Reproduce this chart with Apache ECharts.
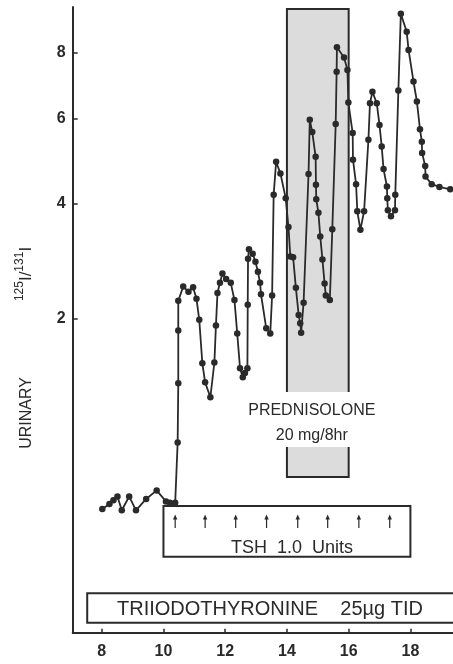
<!DOCTYPE html>
<html><head><meta charset="utf-8">
<script src="https://cdn.jsdelivr.net/npm/echarts@6/dist/echarts.min.js"></script>
<style>html,body{margin:0;padding:0;background:#fff}#c{width:453px;height:664px}</style>
</head><body><div id="c"></div>
<script>
// ---- data ----
const days = [8.02, 8.25, 8.38, 8.51, 8.65, 8.89, 9.11, 9.44, 9.78, 10.08, 10.21, 10.38,
  10.46, 10.48, 10.48, 10.48, 10.64, 10.81, 10.96, 11.07, 11.16, 11.26, 11.35, 11.52, 11.65, 11.70,
  11.75, 11.83, 11.91, 12.03, 12.18, 12.30, 12.39, 12.48, 12.57, 12.64, 12.72, 12.73, 12.74, 12.77,
  12.89, 12.98, 13.06, 13.13, 13.16, 13.33, 13.46, 13.52, 13.57, 13.65, 13.79, 13.96, 14.05, 14.11,
  14.20, 14.29, 14.38, 14.43, 14.46, 14.54, 14.70, 14.74, 14.82, 14.93, 14.94, 14.95, 15.02, 15.08,
  15.15, 15.22, 15.26, 15.39, 15.47, 15.58, 15.61, 15.62, 15.85, 15.96, 15.99, 16.13, 16.14, 16.24,
  16.28, 16.38, 16.50, 16.64, 16.69, 16.77, 16.91, 17.00, 17.07, 17.13, 17.24, 17.25, 17.27, 17.37,
  17.50, 17.51, 17.61, 17.69, 17.88, 17.94, 18.10, 18.21, 18.31, 18.37, 18.38, 18.48, 18.49, 18.69,
  18.94, 19.29];
const ratio = [-0.04, 0.00, 0.03, 0.06, -0.05, 0.06, -0.05, 0.04, 0.11, 0.02, 0.01, 0.01,
  0.54, 1.17, 1.84, 2.27, 2.49, 2.41, 2.48, 2.30, 1.99, 1.41, 1.18, 1.01, 1.42, 1.91,
  2.39, 2.55, 2.70, 2.61, 2.55, 2.28, 1.80, 1.35, 1.24, 1.29, 1.35, 2.21, 2.95, 3.12,
  3.04, 2.90, 2.73, 2.55, 2.37, 1.87, 1.80, 2.35, 4.18, 4.92, 4.65, 4.11, 3.53, 2.99,
  2.98, 2.47, 2.06, 1.94, 1.81, 2.24, 4.64, 5.98, 5.66, 5.04, 4.40, 4.09, 3.81, 3.35,
  2.94, 2.54, 2.35, 2.28, 3.49, 5.87, 7.38, 8.18, 7.84, 7.44, 6.46, 5.63, 4.97, 4.41,
  3.84, 3.48, 3.84, 5.46, 6.44, 6.77, 6.44, 5.84, 5.29, 4.75, 4.36, 4.11, 3.86, 3.74,
  3.86, 4.18, 6.81, 9.38, 8.72, 8.09, 7.08, 6.49, 5.73, 5.41, 5.13, 4.82, 4.58, 4.41,
  4.35, 4.30];
const xTicks = [8, 10, 12, 14, 16, 18];
const yTicks = [2, 4, 6, 8];
const xRange = [7.06, 19.38];
const yRange = [-0.84, 9.64];
const prednisoloneDays = [14, 16];
const tshDays = [10, 18];
const tshDoseDays = [10.38, 11.35, 12.34, 13.34, 14.35, 15.32, 16.33, 17.33];
const t3Days = [7.53, 19.8];
const predLabel = ['PREDNISOLONE', '20 mg/8hr'];
const tshLabel = 'TSH  1.0  Units';
const t3Label = 'TRIIODOTHYRONINE    25\u00b5g TID';

// axis scale of the figure (compressive, log-like)
const OFFSET = 2.5;
const toAxis = v => Math.log10(v + OFFSET);
const fromAxis = t => Math.pow(10, t) - OFFSET;

const INK = '#2a2a2a';
const FONT = '"Liberation Sans", Arial, sans-serif';

const chart = echarts.init(document.getElementById('c'));
chart.setOption({
  animation: false,
  backgroundColor: '#fff',
  grid: { left: 72.7, right: 0, top: 7, bottom: 31.3, containLabel: false },
  xAxis: {
    type: 'value', min: xRange[0], max: xRange[1],
    axisLine: { lineStyle: { color: INK, width: 2 } },
    axisTick: { inside: true, length: 4, lineStyle: { color: INK, width: 1.5 }, customValues: xTicks },
    axisLabel: { customValues: xTicks, margin: 11, color: INK, fontSize: 16, fontWeight: 'bold', fontFamily: FONT },
    splitLine: { show: false }
  },
  yAxis: {
    type: 'value', min: toAxis(yRange[0]), max: toAxis(yRange[1]),
    axisLine: { show: true, lineStyle: { color: INK, width: 2 } },
    axisTick: { show: true, inside: true, length: 5, lineStyle: { color: INK, width: 1.5 }, customValues: yTicks.map(toAxis) },
    axisLabel: { customValues: yTicks.map(toAxis), margin: 7, color: INK, fontSize: 16, fontWeight: 'bold', fontFamily: FONT,
      formatter: v => String(Math.round(fromAxis(v))) },
    splitLine: { show: false },
    name: '{u|URINARY}{s|125}{b|I/}{s|131}{b|I}',
    nameLocation: 'middle', nameRotate: 90, nameGap: 38,
    nameTextStyle: {
      padding: [0, 56, 0, 0],
      rich: {
        u: { fontSize: 16, fontFamily: FONT, color: INK, lineHeight: 21, verticalAlign: 'bottom', padding: [0, 76, 0, 0] },
        s: { fontSize: 12, fontFamily: FONT, color: INK, lineHeight: 12, verticalAlign: 'top' },
        b: { fontSize: 17, fontFamily: FONT, color: INK, lineHeight: 21, verticalAlign: 'bottom' }
      }
    }
  },
  series: [{
    type: 'line',
    data: days.map((d, i) => [d, toAxis(ratio[i])]),
    symbol: 'circle', symbolSize: 6.5,
    lineStyle: { color: INK, width: 1.8 },
    itemStyle: { color: INK },
    z: 3
  }]
});

const px = d => chart.convertToPixel({ xAxisIndex: 0 }, d);
const g = [];
// prednisolone box
const p0 = px(prednisoloneDays[0]), p1 = px(prednisoloneDays[1]);
g.push({ type: 'rect', z: 1, shape: { x: p0, y: 9, width: p1 - p0, height: 468 },
  style: { fill: '#dcdcdc', stroke: INK, lineWidth: 2 } });
g.push({ type: 'rect', z: 4, shape: { x: p0 - 3, y: 392, width: p1 - p0 + 6, height: 55 },
  style: { fill: '#fff', stroke: null } });
g.push({ type: 'text', z: 5, style: { text: predLabel[0], x: (p0 + p1) / 2 - 6, y: 410.5,
  align: 'center', verticalAlign: 'middle', font: '16px ' + FONT, fill: INK } });
g.push({ type: 'text', z: 5, style: { text: predLabel[1], x: (p0 + p1) / 2 - 6, y: 435.5,
  align: 'center', verticalAlign: 'middle', font: '16px ' + FONT, fill: INK } });
// TSH box
const t0 = px(tshDays[0]), t1 = px(tshDays[1]);
g.push({ type: 'rect', z: 1, shape: { x: t0, y: 506, width: t1 - t0, height: 50.7 },
  style: { fill: 'none', stroke: INK, lineWidth: 2 } });
tshDoseDays.forEach(d => {
  const x = px(d);
  g.push({ type: 'line', z: 5, shape: { x1: x, y1: 528, x2: x, y2: 517 }, style: { stroke: INK, lineWidth: 1.2 } });
  g.push({ type: 'polygon', z: 5, shape: { points: [[x, 514.5], [x - 2.2, 519.5], [x + 2.2, 519.5]] }, style: { fill: INK } });
});
g.push({ type: 'text', z: 5, style: { text: tshLabel, x: (t0 + t1) / 2 + 5, y: 548,
  align: 'center', verticalAlign: 'middle', font: '18px ' + FONT, fill: INK } });
// triiodothyronine box
const r0 = px(t3Days[0]), r1 = px(t3Days[1]);
g.push({ type: 'rect', z: 1, shape: { x: r0, y: 593.3, width: r1 - r0, height: 29.4 },
  style: { fill: 'none', stroke: INK, lineWidth: 2 } });
g.push({ type: 'text', z: 5, style: { text: t3Label, x: 270, y: 609,
  align: 'center', verticalAlign: 'middle', font: '20px ' + FONT, fill: INK } });

chart.setOption({ graphic: { elements: g } });
</script>
</body></html>
